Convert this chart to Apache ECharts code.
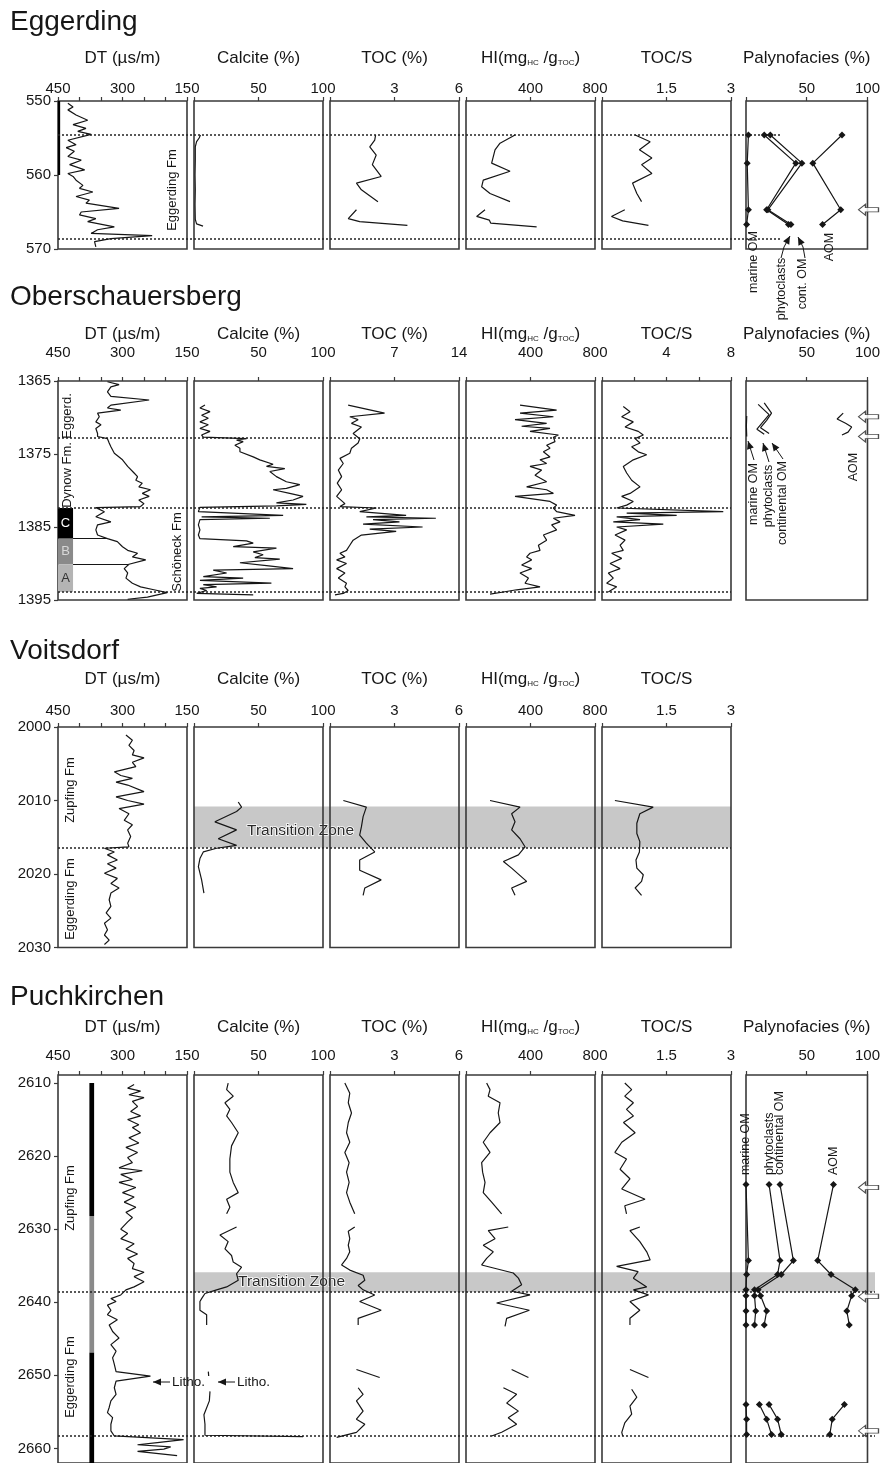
<!DOCTYPE html>
<html><head><meta charset="utf-8">
<script src="https://cdn.jsdelivr.net/npm/echarts@6/dist/echarts.min.js"></script>
<style>html,body{margin:0;padding:0;background:#fff}#c{width:883px;height:1463px}</style>
</head><body><div id="c"></div>
<script>
// ================= DATA (value, depth) =================
// tick / label values
const dtTicks=[150,200,250,300,350,400,450], dtLabels=[150,300,450];
const calTicks=[0,50,100], calLabels=[50,100];
const tocTicks=[0,3,6], tocLabels=[3,6];
const tocTicksOb=[0,7,14], tocLabelsOb=[7,14];
const hiTicks=[0,400,800], hiLabels=[400,800];
const tsTicks=[0,1.5,3], tsLabels=[1.5,3];
const tsTicksOb=[0,2,4,6,8], tsLabelsOb=[4,8];
const palTicks=[0,50,100], palLabels=[50,100];
const eggYTicks=[550,560,570], obYTicks=[1365,1375,1385,1395], vdYTicks=[2000,2010,2020,2030], pkYTicks=[2610,2620,2630,2640,2650,2660];

// ---- Eggerding ----
const eggDT=[[427,550.3],[415,550.8],[427,551.2],[408,551.9],[381,552.6],[415,553.2],[385,553.7],[404,554.1],[373,554.5],[427,555.3],[408,555.9],[431,556.3],[412,556.8],[427,557.5],[396,558.0],[423,558.6],[388,559.3],[427,559.8],[415,560.2],[408,560.7],[392,561.4],[400,561.8],[369,562.3],[408,562.9],[377,563.4],[385,563.8],[308,564.5],[396,565.0],[400,565.4],[362,565.9],[381,566.3],[319,567.0],[358,567.4],[373,567.9],[231,568.2],[327,568.6],[365,569.0],[362,569.7]];
const eggCal=[[5,554.6],[4,555.0],[2,555.5],[1,556.2],[1,558],[0.8,560],[1,562],[0.8,564],[1,566],[2,566.6],[7,566.9]];
const eggTocA=[[2.12,554.6],[2.08,555.3],[1.85,556.2],[2.15,557.3],[1.97,558.6],[2.38,560.2],[1.23,561.1],[1.46,562.0],[2.23,563.6]];
const eggTocB=[[1.23,564.7],[0.85,565.9],[1.38,566.3],[3.6,566.8]];
const eggHiA=[[304,554.6],[211,555.7],[180,556.6],[159,558.4],[273,559.5],[107,560.7],[97,561.6],[149,562.5],[273,563.6]];
const eggHiB=[[118,564.7],[66,565.6],[145,566.1],[153,566.5],[438,567.0]];
const eggTsA=[[0.77,554.6],[1.12,555.5],[0.87,556.6],[1.16,557.7],[0.92,558.6],[1.16,559.8],[0.71,561.1],[0.81,562.5],[0.92,563.6]];
const eggTsB=[[0.53,564.7],[0.22,565.6],[0.48,566.2],[1.08,566.8]];
const eggPalDepth=[554.6,558.4,564.7,566.7];
const eggMarine=[2,1,2,0.5];
const eggPhyto=[15,41,17,35];
const eggCont=[20,46,18,37];
const eggAom=[79,55,78,63];
const eggBounds=[554.6,568.6];
const eggArrows=[564.7];

// ---- Oberschauersberg ----
const obDT=[[335,1365.1],[308,1365.5],[327,1365.8],[335,1366.5],[327,1367.1],[238,1367.6],[327,1368.3],[335,1368.7],[304,1369.0],[358,1369.4],[354,1369.9],[362,1370.6],[350,1371.0],[362,1371.5],[358,1372.2],[358,1372.6],[335,1372.9],[331,1373.5],[327,1374.0],[319,1374.9],[300,1375.8],[288,1376.7],[273,1377.6],[265,1378.1],[269,1378.6],[254,1379.0],[262,1379.5],[235,1379.9],[254,1380.4],[238,1380.8],[262,1381.3],[250,1381.8],[258,1382.2],[362,1382.35],[342,1382.9],[362,1383.6],[327,1384.3],[358,1384.7],[362,1385.4],[358,1386.1],[335,1386.6],[312,1387.0],[300,1387.7],[288,1388.2],[265,1388.6],[277,1389.1],[246,1389.5],[285,1390.1],[296,1390.7],[288,1391.3],[292,1392.0],[277,1392.7],[258,1393.2],[227,1393.6],[196,1394.0],[219,1394.3],[242,1394.6],[288,1394.9]];
const obCal=[[8.5,1368.3],[4.6,1368.7],[12.4,1369.2],[5.9,1369.7],[11.1,1370.1],[4.6,1370.6],[11.1,1371.0],[4.6,1371.5],[12.4,1371.9],[5.9,1372.4],[7.2,1372.7],[40.7,1372.9],[33,1373.1],[38.1,1373.3],[31.7,1373.8],[35.6,1374.2],[35.6,1374.7],[45.9,1375.4],[51,1375.8],[61.3,1376.4],[56.2,1376.7],[70.4,1377.0],[58.8,1377.4],[63.9,1378.1],[71.6,1378.8],[82,1379.2],[71.6,1379.7],[61.3,1379.9],[74.2,1380.4],[84.5,1380.8],[76.8,1381.3],[63.9,1381.7],[87.1,1381.9],[63.9,1382.1],[4.6,1382.3],[3.4,1382.9],[69.1,1383.4],[5.9,1383.6],[58.8,1383.8],[4.6,1384.0],[3.4,1384.7],[4.6,1385.4],[3.4,1386.1],[4.6,1386.6],[40.7,1386.9],[45.9,1387.2],[30.4,1387.7],[63.9,1387.9],[45.9,1388.4],[53.6,1388.8],[47.2,1389.2],[66.5,1389.4],[35.6,1389.9],[56.2,1390.3],[76.8,1390.7],[14.9,1390.9],[25.3,1391.3],[7.2,1391.8],[38.1,1392.0],[4.6,1392.3],[60,1392.7],[7.2,1392.9],[17.5,1393.2],[4.6,1393.4],[9.8,1393.7],[2.1,1394.1],[45.9,1394.3]];
const obToc=[[1.97,1368.3],[5.92,1369.4],[2.15,1369.9],[3.05,1370.3],[2.33,1370.8],[3.41,1371.3],[2.51,1372.2],[3.23,1372.9],[3.05,1373.5],[2.33,1374.2],[2.15,1374.9],[1.08,1375.6],[1.44,1376.3],[0.9,1377.2],[1.26,1378.1],[0.79,1379.0],[1.26,1379.9],[0.72,1380.8],[1.62,1381.8],[1.08,1382.2],[5.03,1382.4],[3.23,1382.9],[8.26,1383.4],[3.95,1383.6],[11.49,1383.8],[4.67,1384.0],[7.54,1384.3],[3.59,1384.6],[10.05,1385.0],[4.31,1385.3],[7.18,1385.6],[3.41,1386.1],[2.51,1386.8],[2.15,1387.5],[1.79,1388.2],[1.08,1388.6],[1.62,1389.1],[0.72,1389.5],[1.79,1390.0],[0.72,1390.7],[1.62,1391.3],[0.9,1392.0],[1.79,1392.7],[1.62,1393.2],[1.97,1393.7],[1.44,1394.1],[0.54,1394.3]];
const obHi=[[335,1368.3],[562,1369.0],[335,1369.4],[542,1369.9],[304,1370.3],[500,1370.8],[345,1371.2],[521,1371.5],[397,1371.9],[573,1372.4],[542,1372.7],[552,1373.3],[500,1373.8],[521,1374.2],[480,1374.7],[521,1375.4],[459,1375.8],[500,1376.3],[397,1376.7],[469,1377.2],[428,1377.9],[459,1378.3],[500,1378.8],[376,1379.5],[500,1379.9],[542,1380.4],[304,1380.8],[521,1381.5],[562,1382.0],[542,1382.4],[562,1382.9],[676,1383.4],[542,1383.8],[583,1384.3],[531,1384.7],[562,1385.4],[480,1386.1],[500,1386.8],[449,1387.5],[459,1388.2],[397,1388.6],[376,1389.1],[407,1389.5],[345,1390.2],[407,1390.7],[335,1391.3],[387,1392.0],[366,1392.7],[459,1393.2],[314,1393.6],[232,1393.9],[149,1394.2]];
const obTs=[[1.32,1368.5],[1.74,1369.2],[1.22,1369.9],[1.94,1370.6],[1.43,1371.3],[2.25,1371.9],[2.56,1372.4],[2.05,1372.9],[2.36,1373.5],[1.84,1374.0],[2.25,1374.7],[2.77,1375.1],[1.94,1375.8],[1.32,1376.7],[1.53,1377.6],[1.84,1378.6],[2.36,1379.5],[1.74,1380.4],[1.22,1380.8],[1.94,1381.5],[1.53,1382.0],[0.91,1382.4],[7.52,1382.9],[1.53,1383.1],[4.63,1383.4],[0.91,1383.6],[2.36,1384.0],[0.7,1384.3],[3.8,1384.6],[0.91,1385.0],[1.53,1385.4],[0.81,1386.1],[1.43,1386.8],[1.12,1387.5],[1.32,1388.2],[0.6,1388.6],[1.22,1389.3],[0.5,1390.0],[1.12,1390.7],[0.39,1391.3],[0.7,1392.0],[0.29,1392.7],[0.91,1393.2],[0.39,1393.9]];
const obMarine=[[0.6,1369.8],[0.3,1371.2],[0.6,1372.6]];
const obPhyto=[[10,1368.2],[19,1369.6],[14,1370.6],[9,1371.6],[15,1372.3]];
const obCont=[[15,1368.0],[21,1369.4],[17,1370.4],[12,1371.4],[19,1372.2]];
const obAom=[[80,1369.4],[75,1370.2],[82,1370.8],[87,1371.3],[84,1372.0],[79,1372.4]];
const obBounds=[1372.8,1382.4,1393.9];
const obArrows=[1369.9,1372.6];
const obUnits=[['C',1382.4,1386.6],['B',1386.6,1390.1],['A',1390.1,1393.9]];

// ---- Voitsdorf ----
const vdDT=[[292,2001.1],[277,2001.8],[285,2002.5],[273,2003.2],[277,2003.8],[250,2004.2],[277,2004.8],[269,2005.4],[319,2006.1],[304,2006.6],[277,2007.0],[315,2007.5],[288,2007.9],[250,2008.8],[315,2009.5],[288,2010.0],[250,2010.5],[308,2011.1],[285,2011.8],[296,2012.7],[277,2013.3],[288,2014.0],[281,2014.9],[288,2015.8],[285,2016.3],[342,2016.5],[319,2017.0],[335,2017.4],[312,2018.1],[335,2018.6],[315,2019.2],[342,2019.9],[312,2020.6],[327,2021.3],[308,2021.9],[327,2022.6],[331,2023.5],[327,2024.4],[338,2025.3],[327,2026.0],[342,2026.7],[335,2027.6],[342,2028.3],[331,2029.0],[342,2029.6]];
const vdCal=[[34.3,2010.2],[36.9,2010.9],[33,2011.5],[16.2,2012.9],[33,2014.0],[18.8,2015.2],[33,2016.1],[17.5,2016.5],[7.2,2017.0],[4.6,2017.9],[3.4,2019.0],[5.9,2020.8],[7.7,2022.6]];
const vdToc=[[0.62,2010.0],[1.69,2010.9],[1.54,2012.2],[1.46,2013.6],[1.38,2014.7],[1.69,2015.8],[2.08,2017.0],[1.38,2018.1],[1.38,2019.5],[2.38,2020.8],[1.62,2021.9],[1.54,2022.9]];
const vdHi=[[149,2010.0],[335,2010.9],[283,2011.8],[304,2012.9],[283,2014.0],[335,2015.2],[366,2016.3],[325,2017.4],[232,2018.3],[283,2019.2],[376,2021.0],[283,2021.9],[304,2022.9]];
const vdTs=[[0.3,2010.0],[1.19,2010.9],[0.88,2011.8],[0.81,2013.1],[0.81,2014.5],[0.88,2015.6],[0.87,2017.0],[0.79,2018.1],[0.81,2019.2],[0.96,2020.1],[0.92,2021.0],[0.77,2021.9],[0.92,2022.9]];
const vdBounds=[2016.4];
const vdZone=[2010.8,2016.4];

// ---- Puchkirchen ----
const pkDT=[[273,2610.2],[288,2610.7],[258,2611.1],[285,2611.6],[250,2612.0],[277,2612.5],[265,2613.2],[281,2613.9],[258,2614.5],[288,2615.0],[262,2615.7],[277,2616.1],[258,2616.8],[285,2617.5],[262,2618.2],[292,2618.8],[265,2619.5],[288,2620.2],[277,2620.9],[308,2621.6],[254,2622.0],[304,2622.5],[277,2623.2],[308,2623.6],[269,2624.3],[300,2625.0],[273,2625.6],[296,2626.3],[269,2627.0],[292,2627.7],[277,2628.4],[288,2629.0],[304,2630.0],[288,2630.6],[304,2631.3],[273,2632.0],[292,2632.7],[265,2633.4],[288,2634.0],[273,2634.7],[277,2635.4],[250,2635.9],[273,2636.5],[250,2637.2],[273,2637.9],[292,2638.3],[304,2639.0],[327,2639.5],[315,2639.9],[335,2640.4],[327,2641.1],[335,2641.7],[312,2642.4],[331,2643.1],[323,2644.0],[308,2644.9],[327,2645.8],[315,2646.7],[323,2647.6],[319,2648.5],[315,2649.5],[235,2650.1],[315,2650.8],[319,2651.7],[315,2652.6],[327,2653.5],[331,2654.4],[335,2655.1],[323,2655.8],[327,2656.7],[327,2657.6],[319,2658.3],[158,2658.8],[219,2659.2],[265,2659.5],[188,2659.8],[204,2660.1],[265,2660.4],[173,2661.0]];
const pkCalA=[[26.5,2610.0],[25.3,2610.9],[30.4,2611.8],[24,2612.7],[27.8,2613.6],[25.3,2614.5],[29.1,2615.4],[34.3,2616.8],[29.1,2618.6],[27.8,2620.4],[27.8,2622.2],[30.4,2623.6],[34.3,2625.0],[25.3,2625.9],[27.8,2627.0],[25.3,2627.9]];
const pkCalB=[[33,2629.7],[20.1,2630.8],[26.5,2631.7],[24,2632.7],[29.1,2633.6],[30.4,2634.5],[36.9,2635.2],[33,2636.1],[34.3,2637.0],[25.3,2637.9],[17.5,2638.3],[8.5,2638.8],[5.9,2639.5],[4.6,2639.9],[4.6,2641.1],[9.8,2641.7],[9.8,2643.1]];
const pkCalC=[[11.1,2649.5],[11.4,2650.1]];
const pkCalD=[[12.4,2652.2],[11.9,2653.5],[7.7,2655.4],[8.5,2656.7],[8.5,2658.2],[84.5,2658.4]];
const pkTocA=[[0.69,2610.0],[0.92,2611.4],[0.85,2612.7],[1.0,2614.1],[0.85,2615.4],[0.77,2616.8],[0.92,2618.1],[0.69,2619.5],[0.89,2620.9],[0.77,2622.2],[0.89,2623.6],[0.77,2625.0],[0.92,2626.3],[1.15,2627.9]];
const pkTocB=[[1.15,2629.7],[0.85,2630.3],[0.92,2631.3],[0.85,2632.2],[0.92,2633.1],[0.77,2634.0],[0.54,2634.9],[0.92,2635.6],[1.54,2636.3],[1.62,2637.0],[1.31,2637.7],[1.54,2638.3],[2.08,2639.0],[1.38,2639.9],[2.38,2641.1],[1.31,2642.2],[1.31,2643.1]];
const pkTocC=[[1.23,2649.2],[2.31,2650.3]];
const pkTocD=[[1.31,2651.7],[1.54,2652.6],[1.23,2653.5],[1.54,2654.9],[1.23,2656.0],[1.62,2656.7],[1.23,2657.8],[0.31,2658.5]];
const pkHiA=[[128,2610.0],[149,2610.9],[138,2611.8],[211,2612.7],[200,2614.1],[211,2615.4],[149,2616.8],[107,2618.1],[149,2619.5],[97,2620.9],[103,2622.2],[118,2623.6],[107,2625.0],[159,2626.3],[221,2627.9]];
const pkHiB=[[262,2629.7],[138,2630.2],[180,2631.3],[107,2632.2],[169,2633.1],[128,2634.0],[97,2634.9],[293,2636.0],[325,2636.7],[345,2637.6],[283,2638.5],[397,2639.0],[190,2640.1],[393,2641.1],[252,2642.2],[242,2643.3]];
const pkHiC=[[283,2649.2],[387,2650.3]];
const pkHiD=[[232,2651.7],[314,2652.6],[252,2653.8],[325,2654.9],[262,2655.8],[314,2656.7],[221,2657.8],[159,2658.3]];
const pkTsA=[[0.53,2610.0],[0.69,2610.9],[0.53,2611.8],[0.73,2612.7],[0.57,2613.6],[0.73,2614.5],[0.5,2615.4],[0.77,2616.8],[0.46,2618.1],[0.3,2619.5],[0.57,2620.4],[0.42,2621.8],[0.65,2623.1],[0.46,2624.5],[1.0,2625.9],[0.53,2626.8],[0.57,2627.9]];
const pkTsB=[[0.88,2629.7],[0.65,2630.2],[0.88,2631.7],[1.04,2633.1],[1.12,2634.2],[0.34,2635.1],[0.84,2635.8],[0.73,2636.7],[1.04,2637.9],[0.73,2638.3],[1.08,2639.0],[0.65,2639.9],[0.88,2641.1],[0.65,2642.2],[0.65,2643.1]];
const pkTsC=[[0.65,2649.2],[1.08,2650.3]];
const pkTsD=[[0.69,2651.9],[0.81,2653.0],[0.65,2654.2],[0.69,2655.3],[0.53,2656.5],[0.46,2657.8],[0.48,2658.3]];
const pkPalDepthA=[2623.9,2634.3,2636.2,2638.3,2639.1,2641.2,2643.1];
const pkMarineA=[0,2,0.5,0,0,0,0];
const pkPhytoA=[19,28,26,7,7,8,7];
const pkContA=[28,39,29,10,12,17,15];
const pkAomA=[72,59,70,90,87,83,85];
const pkPalDepthB=[2654.0,2656.0,2658.1];
const pkMarineB=[0,0.5,0.5];
const pkPhytoB=[11,17,21];
const pkContB=[19,26,29];
const pkAomB=[81,71,69];
const pkBounds=[2638.6,2658.3];
const pkZone=[2635.9,2638.6];
const pkArrows=[2624.3,2639.2,2657.6];
const pkBar=[['#000',2610,2628.2],['#8a8a8a',2628.2,2646.9],['#000',2646.9,2662]];

// ================= LAYOUT / BUILD =================
const FONT='"Liberation Sans", Arial, Helvetica, sans-serif';
const INK='#161616', FRAME='#3a3a3a';
const COLS=[[58,129],[194,129],[330,129],[466,129],[602,129],[746,129]];
const RICH={a:{fontFamily:FONT,fontSize:17,color:INK,verticalAlign:'bottom'},s:{fontFamily:FONT,fontSize:8,color:INK,verticalAlign:'bottom'}};
const SEC={
  egg:{top:101,h:148,min:550,max:570,ticks:eggYTicks,nameGap:34,labelMargin:5},
  ob:{top:381,h:219,min:1365,max:1395,ticks:obYTicks,nameGap:38,labelMargin:21},
  vd:{top:727,h:220.5,min:2000,max:2030,ticks:vdYTicks,nameGap:39,labelMargin:9},
  pk:{top:1075,h:390,min:2608.9,max:2662,ticks:pkYTicks,nameGap:39,labelMargin:12}
};
const plain=v=>String(v);
const grid=[],xAxis=[],yAxis=[],series=[],graphic=[];
function addGrid(left,width,top,height,frame){
  grid.push({left,top,width,height,show:frame,borderColor:FRAME,borderWidth:1.6,backgroundColor:'rgba(0,0,0,0)',z:2});
  return grid.length-1;
}
function panel(sec,col,ax){
  const gi=addGrid(COLS[col][0],COLS[col][1],sec.top,sec.h,true);
  xAxis.push({gridIndex:gi,type:'value',position:'top',min:ax.min,max:ax.max,inverse:!!ax.inverse,
    name:ax.name,nameLocation:'middle',nameGap:sec.nameGap,
    nameTextStyle:{fontFamily:FONT,fontSize:17,color:INK,rich:RICH},
    axisLine:{show:false},splitLine:{show:false},
    axisTick:{show:true,inside:false,length:4,customValues:ax.ticks,lineStyle:{color:FRAME,width:1.2}},
    axisLabel:{show:true,customValues:ax.labels,formatter:plain,margin:sec.labelMargin,fontFamily:FONT,fontSize:15,color:INK,showMinLabel:true,showMaxLabel:true}});
  yAxis.push({gridIndex:gi,type:'value',min:sec.min,max:sec.max,inverse:true,show:col===0,
    axisLine:{show:false},splitLine:{show:false},
    axisTick:{show:true,length:4,customValues:sec.ticks,lineStyle:{color:FRAME,width:1.2}},
    axisLabel:{show:true,customValues:sec.ticks,formatter:plain,margin:7,fontFamily:FONT,fontSize:15,color:INK,showMinLabel:true,showMaxLabel:true}});
  return gi;
}
function overlay(sec,left,right){
  const gi=addGrid(left,right-left,sec.top,sec.h,false);
  xAxis.push({gridIndex:gi,type:'value',min:0,max:1,show:false});
  yAxis.push({gridIndex:gi,type:'value',min:sec.min,max:sec.max,inverse:true,show:false});
  return gi;
}
function curve(gi,data,extra){
  series.push(Object.assign({type:'line',xAxisIndex:gi,yAxisIndex:gi,data:data,symbol:'none',showSymbol:false,
    lineStyle:{color:INK,width:1.2},silent:true,animation:false,z:5},extra||{}));
}
function zip(depths,vals){return depths.map((d,i)=>[vals[i],d]);}
function paly(gi,depths,vals,labelText){
  const data=zip(depths,vals).map(v=>({value:v}));
  if(labelText){data[0].label={show:true,formatter:labelText,rotate:90,position:'top',distance:6,align:'left',verticalAlign:'middle',fontFamily:FONT,fontSize:12.5,color:INK};}
  series.push({type:'line',xAxisIndex:gi,yAxisIndex:gi,data:data,symbol:'diamond',symbolSize:7,showSymbol:true,
    itemStyle:{color:INK},lineStyle:{color:INK,width:1.2},silent:true,animation:false,z:5,clip:false,label:{show:false}});
}
const ARROW='path://M0,5L7,0L7,3L20,3L20,7L7,7L7,10Z';
function arrows(gi,depths){
  series.push({type:'scatter',xAxisIndex:gi,yAxisIndex:gi,data:depths.map(d=>[100,d]),symbol:ARROW,symbolSize:[20,11],symbolOffset:[1,0],
    itemStyle:{color:'#fff',borderColor:'#222',borderWidth:1},silent:true,clip:false,z:6,animation:false});
}
function bounds(sec,left,right,depths){
  const gi=overlay(sec,left,right);
  series.push({type:'line',xAxisIndex:gi,yAxisIndex:gi,data:[],symbol:'none',silent:true,animation:false,z:4,
    markLine:{silent:true,animation:false,symbol:['none','none'],label:{show:false},lineStyle:{type:[2,2],color:'#222',width:1.5},
      data:depths.map(d=>({yAxis:d}))}});
}
function zone(sec,left,right,range,offset){
  const gi=overlay(sec,left,right);
  series.push({type:'line',xAxisIndex:gi,yAxisIndex:gi,data:[],symbol:'none',silent:true,animation:false,z:1,
    markArea:{silent:true,animation:false,z:1,itemStyle:{color:'#c8c8c8'},
      label:{show:true,position:'insideLeft',distance:0,offset:offset,fontFamily:FONT,fontSize:15.5,color:'#2a2a2a',textBorderColor:'#fff',textBorderWidth:1.5},
      data:[[{name:'Transition Zone',yAxis:range[0]},{yAxis:range[1]}]]}});
}
function vtext(x,y,text,size){
  graphic.push({type:'text',x:x,y:y,rotation:Math.PI/2,silent:true,z:20,style:{text:text,fontFamily:FONT,fontSize:size,fill:INK,align:'center',verticalAlign:'middle'}});
}
function arrowLine(pts){
  graphic.push({type:'polyline',silent:true,z:20,shape:{points:pts},style:{stroke:INK,lineWidth:1,fill:null}});
  const tip=pts[pts.length-1], fr=pts[pts.length-2];
  const dx=tip[0]-fr[0], dy=tip[1]-fr[1], L=Math.sqrt(dx*dx+dy*dy), ux=dx/L, uy=dy/L;
  const bx=tip[0]-ux*8, by=tip[1]-uy*8;
  graphic.push({type:'polygon',silent:true,z:20,shape:{points:[tip,[bx-uy*3.5,by+ux*3.5],[bx+uy*3.5,by-ux*3.5]]},style:{fill:INK}});
}
const HI_NAME='{a|HI(mg}{s|HC}{a| /g}{s|TOC}{a|)}';
function stdAxes(ob){
  return [
    {min:150,max:450,inverse:true,ticks:dtTicks,labels:dtLabels,name:'DT (µs/m)'},
    {min:0,max:100,ticks:calTicks,labels:calLabels,name:'Calcite (%)'},
    ob?{min:0,max:14,ticks:tocTicksOb,labels:tocLabelsOb,name:'TOC (%)'}:{min:0,max:6,ticks:tocTicks,labels:tocLabels,name:'TOC (%)'},
    {min:0,max:800,ticks:hiTicks,labels:hiLabels,name:HI_NAME},
    ob?{min:0,max:8,ticks:tsTicksOb,labels:tsLabelsOb,name:'TOC/S'}:{min:0,max:3,ticks:tsTicks,labels:tsLabels,name:'TOC/S'},
    {min:0,max:100,ticks:palTicks,labels:palLabels,name:'Palynofacies (%)'}
  ];
}

// ---- Eggerding ----
(function(){
  const s=SEC.egg, ax=stdAxes(false);
  const g=ax.map((a,i)=>panel(s,i,a));
  bounds(s,58,782,eggBounds);
  curve(g[0],eggDT,{markArea:{silent:true,z:3,itemStyle:{color:'#000'},data:[[{xAxis:450,yAxis:550},{xAxis:445,yAxis:560}]]}});
  curve(g[1],eggCal);
  curve(g[2],eggTocA); curve(g[2],eggTocB);
  curve(g[3],eggHiA); curve(g[3],eggHiB);
  curve(g[4],eggTsA); curve(g[4],eggTsB);
  paly(g[5],eggPalDepth,eggMarine); paly(g[5],eggPalDepth,eggPhyto); paly(g[5],eggPalDepth,eggCont); paly(g[5],eggPalDepth,eggAom);
  arrows(g[5],eggArrows);
  vtext(172,190,'Eggerding Fm',13);
  vtext(754,262,'marine OM',12.5); vtext(782,289,'phytoclasts',12.5); vtext(803,284,'cont. OM',12.5); vtext(830,247,'AOM',12.5);
  arrowLine([[781,258],[784,247],[790,236]]);
  arrowLine([[805,258],[803,247],[798,237]]);
})();

// ---- Oberschauersberg ----
(function(){
  const s=SEC.ob, ax=stdAxes(true);
  const g=ax.map((a,i)=>panel(s,i,a));
  bounds(s,58,731,obBounds);
  const unitCol={C:['#000','#fff'],B:['#8a8a8a','#d8d8d8'],A:['#b4b4b4','#333']};
  curve(g[0],obDT,{
    markArea:{silent:true,z:3,data:obUnits.map(u=>[{name:u[0],xAxis:450,yAxis:u[1],itemStyle:{color:unitCol[u[0]][0]},label:{color:unitCol[u[0]][1]}},{xAxis:415,yAxis:u[2]}]),
      label:{show:true,position:'inside',fontFamily:FONT,fontSize:13}},
    markLine:{silent:true,symbol:['none','none'],label:{show:false},lineStyle:{type:'solid',color:INK,width:1.2},
      data:[[{coord:[415,1386.6]},{coord:[335,1386.6]}],[{coord:[415,1390.1]},{coord:[287,1390.1]}]]}
  });
  curve(g[1],obCal);
  curve(g[2],obToc);
  curve(g[3],obHi);
  curve(g[4],obTs);
  curve(g[5],obMarine); curve(g[5],obPhyto); curve(g[5],obCont); curve(g[5],obAom);
  arrows(g[5],obArrows);
  vtext(67,416,'Eggerd.',13); vtext(67,475,'Dynow Fm.',13); vtext(177,552,'Schöneck Fm',13);
  vtext(754,494,'marine OM',12.5); vtext(769,496,'phytoclasts',12.5); vtext(783,503,'continental OM',12.5); vtext(854,467,'AOM',12.5);
  arrowLine([[754,460],[748,441]]);
  arrowLine([[769,462],[763,443]]);
  arrowLine([[783,459],[772,443]]);
})();

// ---- Voitsdorf ----
(function(){
  const s=SEC.vd, ax=stdAxes(false).slice(0,5);
  const g=ax.map((a,i)=>panel(s,i,a));
  zone(s,194,731,vdZone,[53,4]);
  bounds(s,58,731,vdBounds);
  curve(g[0],vdDT); curve(g[1],vdCal); curve(g[2],vdToc); curve(g[3],vdHi); curve(g[4],vdTs);
  vtext(70,790,'Zupfing Fm',13); vtext(70,899,'Eggerding Fm',13);
})();

// ---- Puchkirchen ----
(function(){
  const s=SEC.pk, ax=stdAxes(false);
  const g=ax.map((a,i)=>panel(s,i,a));
  zone(s,194,875,pkZone,[44,0]);
  bounds(s,58,875,pkBounds);
  curve(g[0],pkDT,{markArea:{silent:true,z:3,data:pkBar.map(b=>[{xAxis:377,yAxis:b[1],itemStyle:{color:b[0]}},{xAxis:366,yAxis:b[2]}])}});
  curve(g[1],pkCalA); curve(g[1],pkCalB); curve(g[1],pkCalC); curve(g[1],pkCalD);
  curve(g[2],pkTocA); curve(g[2],pkTocB); curve(g[2],pkTocC); curve(g[2],pkTocD);
  curve(g[3],pkHiA); curve(g[3],pkHiB); curve(g[3],pkHiC); curve(g[3],pkHiD);
  curve(g[4],pkTsA); curve(g[4],pkTsB); curve(g[4],pkTsC); curve(g[4],pkTsD);
  paly(g[5],pkPalDepthA,pkMarineA,'marine OM'); paly(g[5],pkPalDepthA,pkPhytoA,'phytoclasts');
  paly(g[5],pkPalDepthA,pkContA,'continental OM'); paly(g[5],pkPalDepthA,pkAomA,'AOM');
  paly(g[5],pkPalDepthB,pkMarineB); paly(g[5],pkPalDepthB,pkPhytoB); paly(g[5],pkPalDepthB,pkContB); paly(g[5],pkPalDepthB,pkAomB);
  arrows(g[5],pkArrows);
  vtext(70,1198,'Zupfing Fm',13); vtext(70,1377,'Eggerding Fm',13);
  arrowLine([[170,1382],[153,1382]]);
  arrowLine([[235,1382],[218,1382]]);
  graphic.push({type:'text',x:172,y:1382,silent:true,z:20,style:{text:'Litho.',fontFamily:FONT,fontSize:13.5,fill:INK,align:'left',verticalAlign:'middle'}});
  graphic.push({type:'text',x:237,y:1382,silent:true,z:20,style:{text:'Litho.',fontFamily:FONT,fontSize:13.5,fill:INK,align:'left',verticalAlign:'middle'}});
})();

const TT={fontFamily:FONT,fontSize:28,fontWeight:'normal',color:INK};
const option={
  backgroundColor:'#fff',animation:false,
  title:[
    {text:'Eggerding',left:10,top:8,padding:0,textStyle:TT},
    {text:'Oberschauersberg',left:10,top:283,padding:0,textStyle:TT},
    {text:'Voitsdorf',left:10,top:637,padding:0,textStyle:TT},
    {text:'Puchkirchen',left:10,top:983,padding:0,textStyle:TT}
  ],
  grid:grid,xAxis:xAxis,yAxis:yAxis,series:series,graphic:graphic
};
const chart=echarts.init(document.getElementById('c'),null,{renderer:'canvas'});
chart.setOption(option);
</script></body></html>
